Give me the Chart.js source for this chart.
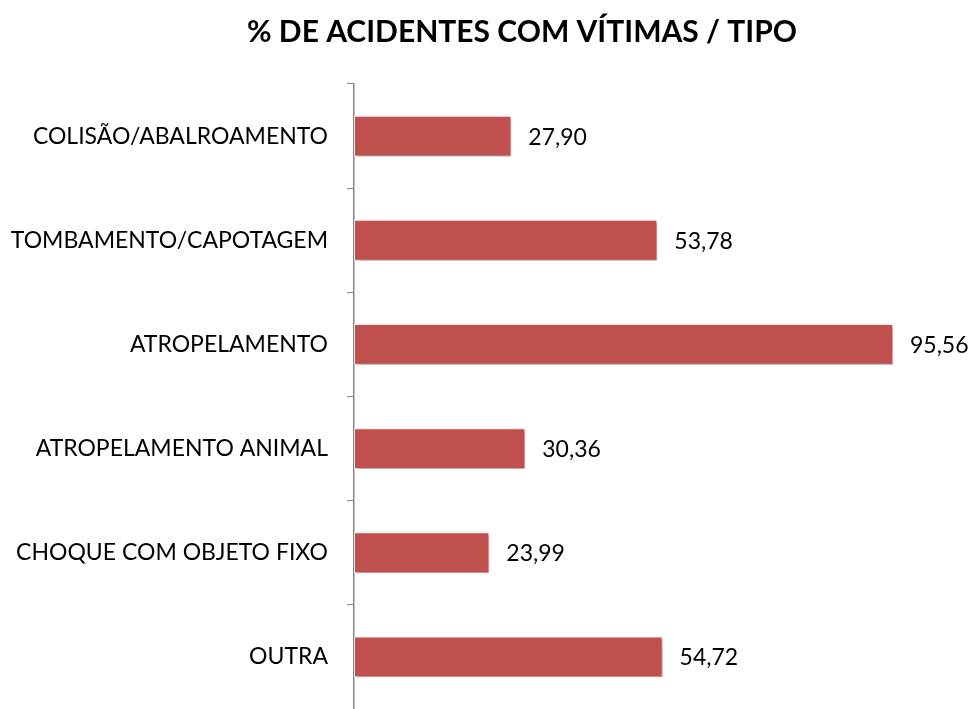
<!DOCTYPE html>
<html>
<head>
<meta charset="utf-8">
<script src="https://cdn.jsdelivr.net/npm/chart.js@4.4.0/dist/chart.umd.min.js"></script>
<style>
  html, body { margin: 0; padding: 0; background: #fff; overflow: hidden; }
  canvas { display: block; }
</style>
</head>
<body>
<canvas id="chart" width="974" height="709"></canvas>
<script>
const titleText = '% DE ACIDENTES COM VÍTIMAS / TIPO';
const categories = [
    'COLISÃO/ABALROAMENTO',
    'TOMBAMENTO/CAPOTAGEM',
    'ATROPELAMENTO',
    'ATROPELAMENTO ANIMAL',
    'CHOQUE COM OBJETO FIXO',
    'OUTRA'
];
const values = [27.90, 53.78, 95.56, 30.36, 23.99, 54.72];

const fontFamily = 'Lato, "Open Sans", sans-serif';

// title drawn by hand so it can sit off-centre like the original
const titlePlugin = {
    id: 'titleText',
    afterDraw(chart) {
        const ctx = chart.ctx;
        ctx.save();
        ctx.font = 'bold 30px ' + fontFamily;
        ctx.fillStyle = '#000';
        ctx.textAlign = 'center';
        ctx.textBaseline = 'middle';
        ctx.fillText(titleText, 522, 32);
        ctx.restore();
    }
};

// soft drop shadow behind the bars
const shadowPlugin = {
    id: 'barShadow',
    beforeDatasetsDraw(chart) {
        const ctx = chart.ctx;
        ctx.save();
        ctx.shadowColor = 'rgba(0, 0, 0, 0.35)';
        ctx.shadowBlur = 3;
        ctx.shadowOffsetX = 2;
        ctx.shadowOffsetY = 2;
    },
    afterDatasetsDraw(chart) {
        chart.ctx.restore();
    }
};

// value labels to the right of each bar, with a decimal comma
const valueLabels = {
    id: 'valueLabels',
    afterDatasetsDraw(chart) {
        const ctx = chart.ctx;
        const meta = chart.getDatasetMeta(0);
        ctx.save();
        ctx.font = '23px ' + fontFamily;
        ctx.fillStyle = '#000';
        ctx.textAlign = 'left';
        ctx.textBaseline = 'middle';
        meta.data.forEach(function(bar, i) {
            const txt = values[i].toFixed(2).replace('.', ',');
            ctx.fillText(txt, bar.x + 17, bar.y + 1);
        });
        ctx.restore();
    }
};

new Chart(document.getElementById('chart'), {
    type: 'bar',
    data: {
        labels: categories,
        datasets: [{
            data: values,
            backgroundColor: '#C0504D',
            borderColor: 'rgba(255, 235, 235, 0.9)',
            borderWidth: 1,
            borderSkipped: false,
            categoryPercentage: 1,
            barPercentage: 0.392
        }]
    },
    options: {
        indexAxis: 'y',
        responsive: false,
        animation: false,
        layout: { padding: { top: 84, right: 56, bottom: -2.6, left: 0 } },
        plugins: {
            legend: { display: false },
            tooltip: { enabled: false }
        },
        scales: {
            x: {
                display: false,
                min: 0,
                max: 100
            },
            y: {
                afterFit: function(scale) {
                    scale.width = 354;
                    // the labels must not push the plot area up from the bottom
                    scale.paddingTop = 0;
                    scale.paddingBottom = 0;
                },
                grid: {
                    offset: true,
                    drawOnChartArea: false,
                    drawTicks: true,
                    tickLength: 7,
                    color: '#868686'
                },
                border: { display: true, color: '#868686', width: 1.5 },
                ticks: {
                    padding: 19,
                    color: '#000',
                    font: { family: fontFamily, size: 23 }
                }
            }
        }
    },
    plugins: [titlePlugin, shadowPlugin, valueLabels]
});
</script>
</body>
</html>
